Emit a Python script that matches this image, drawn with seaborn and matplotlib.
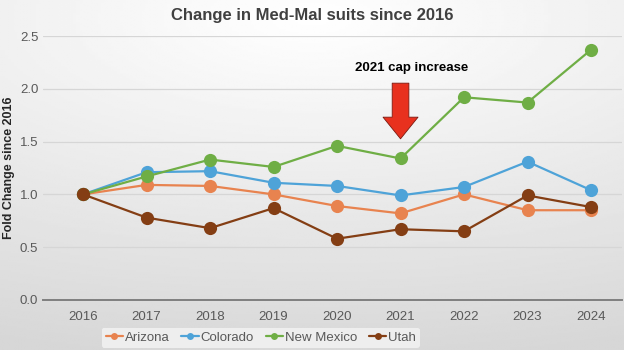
import numpy as np
import pandas as pd
import matplotlib.pyplot as plt
import seaborn as sns

# Datos
years = [2016, 2017, 2018, 2019, 2020, 2021, 2022, 2023, 2024]
arizona = [1.00, 1.09, 1.08, 1.00, 0.89, 0.82, 1.00, 0.85, 0.85]
colorado = [1.00, 1.21, 1.22, 1.11, 1.08, 0.99, 1.07, 1.31, 1.04]
new_mexico = [1.00, 1.17, 1.33, 1.26, 1.46, 1.34, 1.92, 1.87, 2.37]
utah = [1.00, 0.78, 0.68, 0.87, 0.58, 0.67, 0.65, 0.99, 0.88]
states = ['Arizona', 'Colorado', 'New Mexico', 'Utah']
colors = ['#E8834F', '#4EA3D8', '#6FAE45', '#843E14']

df = pd.DataFrame({
    'year': years * 4,
    'fold': arizona + colorado + new_mexico + utah,
    'state': np.repeat(states, len(years)),
})

sns.set_theme(style='white')
plt.rcParams['font.family'] = ['Liberation Sans', 'DejaVu Sans']

fig = plt.figure(figsize=(6.24, 3.5), dpi=100)

# Fondo con degradado gris (claro arriba al centro)
bg = fig.add_axes([0, 0, 1, 1], zorder=-10)
yy, xx = np.mgrid[0:1:200j, 0:1:200j]
dist = np.sqrt((xx - 0.5) ** 2 * 0.5 + (yy - 0.05) ** 2 * 1.0)
grad = 1 - 0.16 * np.clip(dist, 0, 1)
bg.imshow(grad, cmap='gray', vmin=0, vmax=1, aspect='auto', extent=[0, 1, 0, 1])
bg.axis('off')

ax = fig.add_axes([0.069, 0.143, 0.928, 0.754])
ax.patch.set_alpha(0)

sns.lineplot(data=df, x='year', y='fold', hue='state', palette=colors,
             marker='o', markersize=9.5, linewidth=1.6, markeredgewidth=0,
             ax=ax, legend=False)

ax.set_ylim(0, 2.5)
ax.set_xlim(2015.37, 2024.49)
ax.set_yticks([0, 0.5, 1.0, 1.5, 2.0, 2.5])
ax.set_yticklabels(['0.0', '0.5', '1.0', '1.5', '2.0', '2.5'])
ax.set_xticks(years)
ax.tick_params(axis='both', colors='#595959', labelsize=9.5, length=0)
ax.tick_params(axis='x', pad=8)
ax.grid(axis='y', color='#D6D6D6', linewidth=0.9)
ax.set_axisbelow(True)
for s in ['top', 'right', 'left']:
    ax.spines[s].set_visible(False)
ax.spines['bottom'].set_color('#7F7F7F')
ax.spines['bottom'].set_linewidth(1.4)

ax.set_xlabel('')
ax.set_ylabel('Fold Change since 2016', fontsize=9, fontweight='bold', color='#262626')
ax.yaxis.set_label_coords(-0.048, 0.5)

fig.text(0.5, 0.955, 'Change in Med-Mal suits since 2016', ha='center', va='center',
         fontsize=12, fontweight='bold', color='#404040')

# Flecha de la anotacion
ax.annotate('', xy=(2021, 1.5), xytext=(2021, 2.08),
            arrowprops=dict(arrowstyle='simple,head_length=1.3,head_width=2.1,tail_width=1.0',
                            fc='#E8311E', ec='#7A1A10', lw=0.6))
ax.text(2021.18, 2.2, '2021 cap increase', ha='center', va='center',
        fontsize=9.5, fontweight='bold', color='black')

handles = [plt.Line2D([], [], color=c, marker='o', markersize=5, linewidth=1.6,
                      markeredgewidth=0) for c in colors]
leg = fig.legend(handles, states, loc='center', bbox_to_anchor=(0.418, 0.035), ncol=4,
                 frameon=True, fontsize=9.5, handlelength=1.3, handletextpad=0.15,
                 columnspacing=0.9, borderpad=0.3)
leg.get_frame().set_facecolor('#F4F4F4')
leg.get_frame().set_edgecolor('none')
for t in leg.get_texts():
    t.set_color('#595959')

fig.savefig('out.png', dpi=100)
